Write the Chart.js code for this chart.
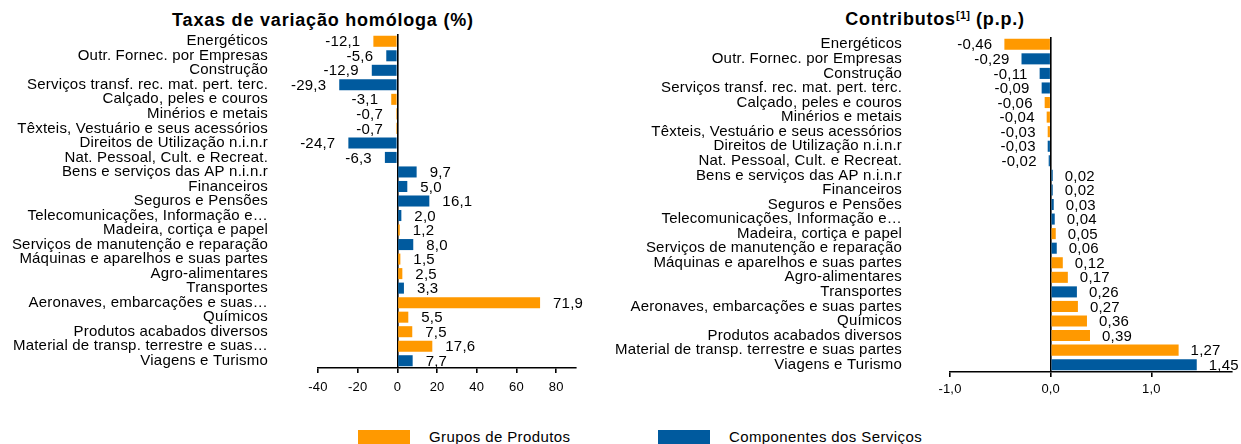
<!DOCTYPE html>
<html>
<head>
<meta charset="utf-8">
<script src="https://cdn.jsdelivr.net/npm/chart.js@4.4.1/dist/chart.umd.min.js"></script>
<style>
html,body{margin:0;padding:0;background:#fff;}
body{width:1241px;height:444px;position:relative;overflow:hidden;font-family:"Liberation Sans",Arial,sans-serif;color:#000;}
#w1{position:absolute;left:0;top:0;width:600px;height:410px;}
#w2{position:absolute;left:600px;top:0;width:641px;height:410px;}
.title{position:absolute;font-weight:bold;font-size:18px;line-height:20px;white-space:nowrap;letter-spacing:0.8px;transform:translateX(-50%);}
.sup{font-size:11px;position:relative;top:-6px;letter-spacing:0.3px;}
.box{position:absolute;top:430px;width:52px;height:14px;}
.ltxt{position:absolute;top:428px;height:18px;line-height:18px;font-size:15px;letter-spacing:0.4px;white-space:nowrap;}
</style>
</head>
<body>
<div class="title" style="left:323px;top:10px;">Taxas de variação homóloga (%)</div>
<div class="title" style="left:935px;top:9px;">Contributos<span class="sup">[1]</span> (p.p.)</div>
<div id="w1"><canvas id="c1"></canvas></div>
<div id="w2"><canvas id="c2"></canvas></div>
<div class="box" style="left:358px;background:#FF9900;"></div>
<div class="ltxt" style="left:429px;">Grupos de Produtos</div>
<div class="box" style="left:658px;background:#005A9E;"></div>
<div class="ltxt" style="left:729px;">Componentes dos Serviços</div>
<script>
// ---------- DATA ----------
const seriesNames = ["Grupos de Produtos", "Componentes dos Serviços"];

// Left chart: Taxas de variação homóloga (%)
const categoriesLeft = [
  "Energéticos",
  "Outr. Fornec. por Empresas",
  "Construção",
  "Serviços transf. rec. mat. pert. terc.",
  "Calçado, peles e couros",
  "Minérios e metais",
  "Têxteis, Vestuário e seus acessórios",
  "Direitos de Utilização n.i.n.r",
  "Nat. Pessoal, Cult. e Recreat.",
  "Bens e serviços das AP n.i.n.r",
  "Financeiros",
  "Seguros e Pensões",
  "Telecomunicações, Informação e…",
  "Madeira, cortiça e papel",
  "Serviços de manutenção e reparação",
  "Máquinas e aparelhos e suas partes",
  "Agro-alimentares",
  "Transportes",
  "Aeronaves, embarcações e suas…",
  "Químicos",
  "Produtos acabados diversos",
  "Material de transp. terrestre e suas…",
  "Viagens e Turismo"
];
const valuesLeft = [-12.1, -5.6, -12.9, -29.3, -3.1, -0.7, -0.7, -24.7, -6.3, 9.7, 5.0, 16.1, 2.0, 1.2, 8.0, 1.5, 2.5, 3.3, 71.9, 5.5, 7.5, 17.6, 7.7];
// P = Grupos de Produtos, S = Componentes dos Serviços
const groupsLeft = ["P","S","S","S","P","P","P","S","S","S","S","S","S","P","S","P","P","S","P","P","P","P","S"];
const ticksLeft = [-40, -20, 0, 20, 40, 60, 80];

// Right chart: Contributos (p.p.)
const categoriesRight = [
  "Energéticos",
  "Outr. Fornec. por Empresas",
  "Construção",
  "Serviços transf. rec. mat. pert. terc.",
  "Calçado, peles e couros",
  "Minérios e metais",
  "Têxteis, Vestuário e seus acessórios",
  "Direitos de Utilização n.i.n.r",
  "Nat. Pessoal, Cult. e Recreat.",
  "Bens e serviços das AP n.i.n.r",
  "Financeiros",
  "Seguros e Pensões",
  "Telecomunicações, Informação e…",
  "Madeira, cortiça e papel",
  "Serviços de manutenção e reparação",
  "Máquinas e aparelhos e suas partes",
  "Agro-alimentares",
  "Transportes",
  "Aeronaves, embarcações e suas partes",
  "Químicos",
  "Produtos acabados diversos",
  "Material de transp. terrestre e suas partes",
  "Viagens e Turismo"
];
const valuesRight = [-0.46, -0.29, -0.11, -0.09, -0.06, -0.04, -0.03, -0.03, -0.02, 0.02, 0.02, 0.03, 0.04, 0.05, 0.06, 0.12, 0.17, 0.26, 0.27, 0.36, 0.39, 1.27, 1.45];
const groupsRight = ["P","S","S","S","P","P","P","S","S","S","S","S","S","P","S","P","P","S","P","P","P","P","S"];
const ticksRight = [-1.0, 0.0, 1.0];

// ---------- STYLE ----------
const ORANGE = "#FF9900";
const BLUE = "#005A9E";
const FONT = "'Liberation Sans', Arial, sans-serif";

function split(values, groups, g){
  return values.map((v,i)=> groups[i]===g ? v : null);
}

const spacing = {
  id: 'spacing',
  beforeDraw(chart){ try { chart.ctx.letterSpacing = '0.2px'; } catch(e){} },
  afterDraw(chart){ try { chart.ctx.letterSpacing = '0px'; } catch(e){} }
};

function makeLabels(fmt, offset){
  return {
    id: 'valueLabels',
    afterDatasetsDraw(chart){
      const ctx = chart.ctx;
      ctx.save();
      ctx.font = "15px " + FONT;
      ctx.fillStyle = "#000";
      ctx.textBaseline = "middle";
      chart.data.datasets.forEach((ds, di)=>{
        const meta = chart.getDatasetMeta(di);
        meta.data.forEach((bar, i)=>{
          const v = ds.data[i];
          if (v === null || v === undefined) return;
          const p = bar.getProps(['x','y'], true);
          const t = fmt(v);
          if (v < 0){ ctx.textAlign = "right"; ctx.fillText(t, p.x - offset, p.y + 1); }
          else { ctx.textAlign = "left"; ctx.fillText(t, p.x + offset, p.y + 1); }
        });
      });
      ctx.restore();
    }
  };
}

function buildChart(id, cats, vals, groups, tickVals, opt){
  const tickSet = tickVals.map(v=>Math.round(v*100));
  return new Chart(document.getElementById(id), {
    type: 'bar',
    data: {
      labels: cats,
      datasets: [
        {label: seriesNames[0], data: split(vals, groups, "P"), backgroundColor: ORANGE, barPercentage: 0.76, categoryPercentage: 1.0},
        {label: seriesNames[1], data: split(vals, groups, "S"), backgroundColor: BLUE, barPercentage: 0.76, categoryPercentage: 1.0}
      ]
    },
    options: {
      indexAxis: 'y',
      responsive: true,
      maintainAspectRatio: false,
      animation: false,
      layout: {padding: {left: 0, right: opt.padRight, top: opt.padTop, bottom: 0}},
      plugins: {legend: {display: false}, tooltip: {enabled: false}, title: {display: false}},
      scales: {
        y: {
          type: 'category',
          stacked: true,
          afterFit(s){ s.width = opt.yWidth; s.paddingTop = 0; s.paddingBottom = 0; },
          grid: {display: false, drawTicks: false, tickLength: 0},
          border: {display: false},
          ticks: {autoSkip: false, padding: opt.yPad, color: "#000", font: {family: FONT, size: 15}}
        },
        x: {
          type: 'linear',
          stacked: true,
          min: opt.min, max: opt.max,
          afterFit(s){ s.height = opt.xHeight; },
          afterBuildTicks(s){ s.ticks = s.ticks.filter(t => tickSet.includes(Math.round(t.value*100))); },
          ticks: {stepSize: opt.step, includeBounds: false, padding: opt.xPad, color: "#000",
                  font: {family: FONT, size: 13}, maxRotation: 0,
                  callback: (v)=> opt.tickFmt(v)},
          grid: {
            color: (c)=> (c.tick && Math.abs(c.tick.value) < 1e-9) ? "#000" : "rgba(0,0,0,0)",
            lineWidth: 1.6,
            tickColor: "#000",
            tickLength: 5,
            drawTicks: true
          },
          border: {display: true, color: "#000", width: 1.5}
        }
      }
    },
    plugins: [spacing, makeLabels(opt.valFmt, opt.offset)]
  });
}

buildChart('c1', categoriesLeft, valuesLeft, groupsLeft, ticksLeft, {
  padRight: 24, padTop: 34, yWidth: 318, yPad: 50, xHeight: 42, xPad: 7,
  min: -40, max: 90, step: 20,
  tickFmt: v => String(v),
  valFmt: v => v.toFixed(1).replace('.', ','),
  offset: 13
});

buildChart('c2', categoriesRight, valuesRight, groupsRight, ticksRight, {
  padRight: 9, padTop: 37, yWidth: 350, yPad: 48, xHeight: 38, xPad: 5,
  min: -1.0, max: 1.8, step: 1,
  tickFmt: v => v.toFixed(1).replace('.', ','),
  valFmt: v => v.toFixed(2).replace('.', ','),
  offset: 12
});
</script>
</body>
</html>
